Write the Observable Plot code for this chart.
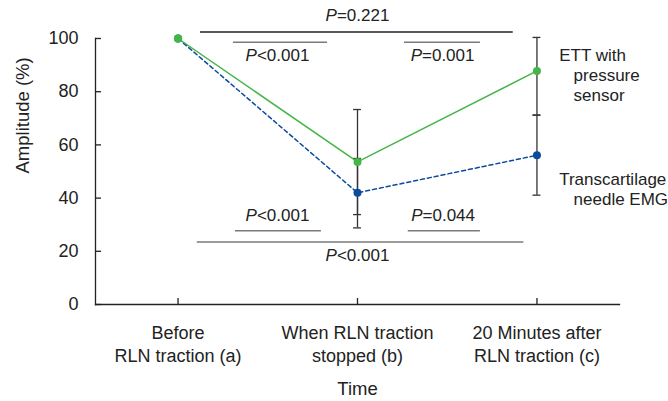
<!DOCTYPE html>
<html>
<head>
<meta charset="utf-8">
<script src="https://cdn.jsdelivr.net/npm/d3@7"></script>
<script src="https://cdn.jsdelivr.net/npm/@observablehq/plot@0.6"></script>
<style>
  html, body { margin: 0; padding: 0; background: #fff; }
  #chart { width: 668px; height: 401px; }
</style>
</head>
<body>
<div id="chart"></div>
<script>
// ---- data ----
const categories = ["Before\nRLN traction (a)", "When RLN traction\nstopped (b)", "20 Minutes after\nRLN traction (c)"];
const timeIndex = [0, 1, 2];
const ettMean = [100, 53.6, 87.8];
const emgMean = [100, 42.0, 56.1];
const ettLow  = [null, 33.8, 71.2];
const ettHigh = [null, 73.3, 100.4];
const emgLow  = [null, 28.8, 41.1];
const emgHigh = [null, 54.9, 71.2];
const yTicks = [0, 20, 40, 60, 80, 100];

const bracketLabels = ["P=0.221", "P<0.001", "P=0.001", "P<0.001", "P=0.044", "P<0.001"];
const bracketX1 = [0.125, 0.309, 1.262, 0.320, 1.283, 0.107];
const bracketX2 = [1.868, 0.833, 1.685, 0.799, 1.685, 1.927];
const bracketY  = [102.4, 98.6, 98.6, 27.7, 27.7, 23.5];
const labelX    = [1.0, 0.554, 1.474, 0.554, 1.477, 1.0];
const labelY    = [108.6, 93.7, 93.7, 33.3, 33.3, 18.5];

const legendLines = ["ETT with", "pressure", "sensor", "Transcartilage", "needle EMG"];
const legendX = [2.124, 2.204, 2.204, 2.124, 2.204];
const legendY = [93.6, 86.1, 78.6, 46.9, 39.4];

// ---- build tables ----
const ett = timeIndex.map((t, i) => ({t, mean: ettMean[i], low: ettLow[i], high: ettHigh[i]}));
const emg = timeIndex.map((t, i) => ({t, mean: emgMean[i], low: emgLow[i], high: emgHigh[i]}));
const errs = [...ett, ...emg].filter(d => d.low != null);
const caps = errs.flatMap(d => [{t: d.t, v: d.low}, {t: d.t, v: d.high}]);
const brackets = bracketLabels.map((label, i) => ({label, x1: bracketX1[i], x2: bracketX2[i], y: bracketY[i], lx: labelX[i], ly: labelY[i], i}));
const legend = legendLines.map((s, i) => ({s, x: legendX[i], y: legendY[i]}));

const green = "#44b649";
const blue = "#0c4a9e";
const capHalf = 0.022;

const chart = Plot.plot({
  width: 668,
  height: 401,
  marginLeft: 95,
  marginRight: 49,
  marginTop: 38,
  marginBottom: 97,
  style: {fontFamily: "'Liberation Sans', Arial, Helvetica, sans-serif", fontSize: "18px", color: "#222", background: "#fff"},
  x: {type: "linear", domain: [-0.46, 2.46]},
  y: {domain: [0, 100]},
  marks: [
    Plot.frame({anchor: "left", stroke: "#222", strokeWidth: 1.3}),
    Plot.frame({anchor: "bottom", stroke: "#222", strokeWidth: 1.3}),
    Plot.axisY({ticks: yTicks, tickSize: -6, tickPadding: 23, label: null, fontSize: 18, stroke: "#222", strokeWidth: 1.3}),
    Plot.axisX({ticks: timeIndex, tickFormat: i => categories[i], tickSize: -6, tickPadding: 25, label: null, fontSize: 18, lineHeight: 1.25, stroke: "#222", strokeWidth: 1.3}),
    Plot.text(["Amplitude (%)"], {frameAnchor: "left", rotate: -90, dx: -72, dy: 2, fontSize: 18.5, fill: "#222"}),
    Plot.text(["Time"], {frameAnchor: "bottom", dy: 90, fontSize: 18.5, fill: "#222"}),
    // brackets
    Plot.ruleY(brackets, {y: "y", x1: "x1", x2: "x2", stroke: d => d.i === 0 ? "#222" : "#7a7a7a", strokeWidth: 1.5}),
    Plot.text(brackets, {x: "lx", y: "ly", text: "label", fontSize: 17, fill: "#222"}),
    // error bars
    Plot.ruleX(errs, {x: "t", y1: "low", y2: "high", stroke: "#333", strokeWidth: 1.3}),
    Plot.ruleY(caps, {y: "v", x1: d => d.t - capHalf, x2: d => d.t + capHalf, stroke: "#333", strokeWidth: 1.3}),
    // lines
    Plot.line(emg, {x: "t", y: "mean", stroke: blue, strokeWidth: 1.5, strokeDasharray: "4,3"}),
    Plot.line(ett, {x: "t", y: "mean", stroke: green, strokeWidth: 1.5}),
    Plot.dot(emg, {x: "t", y: "mean", r: 4, fill: blue, stroke: "none"}),
    Plot.dot(ett.slice(0, 1), {x: "t", y: "mean", r: 4.2, fill: green, stroke: "none"}),
    Plot.dot(ett.slice(1), {x: "t", y: "mean", r: 4, fill: green, stroke: "none"}),
    // legend labels
    Plot.text(legend, {x: "x", y: "y", text: "s", textAnchor: "start", fontSize: 17, fill: "#222"})
  ]
});

// make sure axis tick labels use the intended size
d3.select(chart).selectAll('g[aria-label="x-axis tick label"], g[aria-label="y-axis tick label"]')
  .attr("font-size", 18).style("font-size", "18px");

// italicize the "P" in p-value labels
d3.select(chart).selectAll("text").each(function() {
  const el = this;
  const t = el.textContent;
  if (/^P[=<]/.test(t) && el.children.length === 0) {
    el.textContent = "";
    const ns = "http://www.w3.org/2000/svg";
    const a = document.createElementNS(ns, "tspan");
    a.setAttribute("font-style", "italic");
    a.textContent = "P";
    const b = document.createElementNS(ns, "tspan");
    b.textContent = t.slice(1);
    el.appendChild(a);
    el.appendChild(b);
  }
});

document.getElementById("chart").appendChild(chart);
</script>
</body>
</html>
